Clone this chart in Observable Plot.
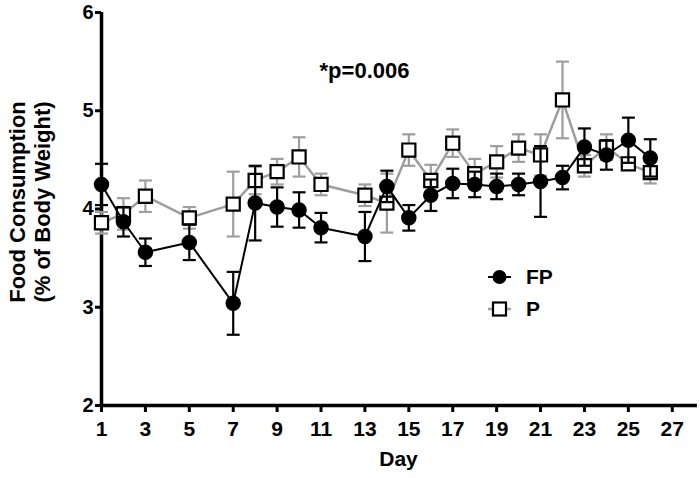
<!DOCTYPE html>
<html>
<head>
<meta charset="utf-8">
<script src="https://cdn.jsdelivr.net/npm/d3@7"></script>
<script src="https://cdn.jsdelivr.net/npm/@observablehq/plot@0.6"></script>
<style>
  html, body { margin: 0; padding: 0; background: #fff; }
  #wrap { position: relative; width: 700px; height: 478px; font-family: "Liberation Sans", Arial, sans-serif; }
  #legend { position: absolute; left: 486px; top: 262px; }
</style>
</head>
<body>
<div id="wrap"></div>
<script>
// ---- data ----
const days = [1,2,3,5,7,8,9,10,11,13,14,15,16,17,18,19,20,21,22,23,24,25,26];
const fpMean = [4.25,3.87,3.56,3.66,3.04,4.06,4.02,3.99,3.81,3.72,4.23,3.91,4.14,4.26,4.25,4.23,4.25,4.28,4.32,4.63,4.55,4.70,4.52];
const fpErr  = [0.21,0.15,0.14,0.18,0.32,0.38,0.20,0.18,0.15,0.25,0.16,0.13,0.16,0.15,0.13,0.13,0.11,0.36,0.12,0.19,0.15,0.23,0.19];
const pMean  = [3.86,3.95,4.13,3.91,4.05,4.29,4.38,4.53,4.25,4.14,4.06,4.60,4.29,4.67,4.36,4.48,4.62,4.55,5.11,4.44,4.63,4.46,4.37];
const pErr   = [0.11,0.16,0.16,0.11,0.33,0.14,0.13,0.20,0.11,0.11,0.30,0.16,0.16,0.14,0.15,0.16,0.14,0.21,0.39,0.11,0.13,0.06,0.11];
const xTicks = [1,3,5,7,9,11,13,15,17,19,21,23,25,27];
const yTicks = [2,3,4,5,6];
const seriesNames = ["FP", "P"];
const annotation = "*p=0.006";
const xTitle = "Day";
const yTitle = "Food Consumption\n(% of Body Weight)";

const fp = days.map((d,i) => ({day: d, v: fpMean[i], lo: fpMean[i]-fpErr[i], hi: fpMean[i]+fpErr[i]}));
const pp = days.map((d,i) => ({day: d, v: pMean[i], lo: pMean[i]-pErr[i], hi: pMean[i]+pErr[i]}));

const GRAY = "#9e9e9e";
const capSymbol = { draw(ctx, size) { const h = Math.sqrt(size / Math.PI); ctx.moveTo(-h, 0); ctx.lineTo(h, 0); } };

function errMarks(data, color, w) {
  return [
    Plot.ruleX(data, {x: "day", y1: "lo", y2: "hi", stroke: color, strokeWidth: w}),
    Plot.dot(data, {x: "day", y: "lo", symbol: capSymbol, r: 6.5, stroke: color, strokeWidth: w, fill: "none"}),
    Plot.dot(data, {x: "day", y: "hi", symbol: capSymbol, r: 6.5, stroke: color, strokeWidth: w, fill: "none"})
  ];
}

const chart = Plot.plot({
  width: 700,
  height: 478,
  marginLeft: 101,
  marginRight: 3,
  marginTop: 12,
  marginBottom: 73,
  style: {fontFamily: "'Liberation Sans', Arial, sans-serif", background: "#fff", color: "#000"},
  x: {domain: [1, 28.15]},
  y: {domain: [2, 6]},
  marks: [
    Plot.axisX({ticks: xTicks, tickSize: 7, tickPadding: 9, fontSize: 21, fontWeight: "bold", strokeWidth: 3, label: null, tickFormat: d => String(d)}),
    Plot.axisY({ticks: yTicks, tickSize: 6, tickPadding: 2, fontSize: 20, fontWeight: "bold", strokeWidth: 3, label: null, tickFormat: d => String(d)}),
    Plot.ruleY([2], {strokeWidth: 3.5, stroke: "#000"}),
    Plot.ruleX([1], {strokeWidth: 3.5, stroke: "#000"}),
    // P series
    ...errMarks(pp, GRAY, 2.2),
    Plot.line(pp, {x: "day", y: "v", stroke: GRAY, strokeWidth: 2.5}),
    Plot.dot(pp, {x: "day", y: "v", symbol: "square", r: 7.4, fill: "#fff", stroke: "#000", strokeWidth: 2.2}),
    // FP series
    ...errMarks(fp, "#000", 2.2),
    Plot.line(fp, {x: "day", y: "v", stroke: "#000", strokeWidth: 2}),
    Plot.dot(fp, {x: "day", y: "v", r: 7, fill: "#000", stroke: "#000"}),
    // annotations
    Plot.text([annotation], {frameAnchor: "top", dx: -35, dy: 50, fontSize: 22, fontWeight: "bold", fill: "#000"}),
    Plot.text([xTitle], {frameAnchor: "bottom", dx: -1, dy: 60, fontSize: 21, fontWeight: "bold", fill: "#000"}),
    Plot.text([yTitle], {frameAnchor: "left", textAnchor: "middle", rotate: -90, dx: -72, dy: -7, fontSize: 22, lineHeight: 1.14, fontWeight: "bold", fill: "#000"})
  ]
});
document.getElementById("wrap").appendChild(chart);

// legend
const lg = document.createElement("div");
lg.id = "legend";
lg.innerHTML = `
<svg width="80" height="60" style="font-family:'Liberation Sans',Arial,sans-serif;font-weight:bold;font-size:21px">
  <line x1="2" x2="25" y1="15" y2="15" stroke="#000" stroke-width="2"/>
  <circle cx="13.5" cy="15" r="7" fill="#000"/>
  <text x="40" y="15" dy="0.35em">${seriesNames[0]}</text>
  <line x1="2" x2="25" y1="47" y2="47" stroke="${GRAY}" stroke-width="2.5"/>
  <rect x="7" y="40.5" width="13" height="13" fill="#fff" stroke="#000" stroke-width="2.2"/>
  <text x="40" y="47" dy="0.35em">${seriesNames[1]}</text>
</svg>`;
document.getElementById("wrap").appendChild(lg);
</script>
</body>
</html>
